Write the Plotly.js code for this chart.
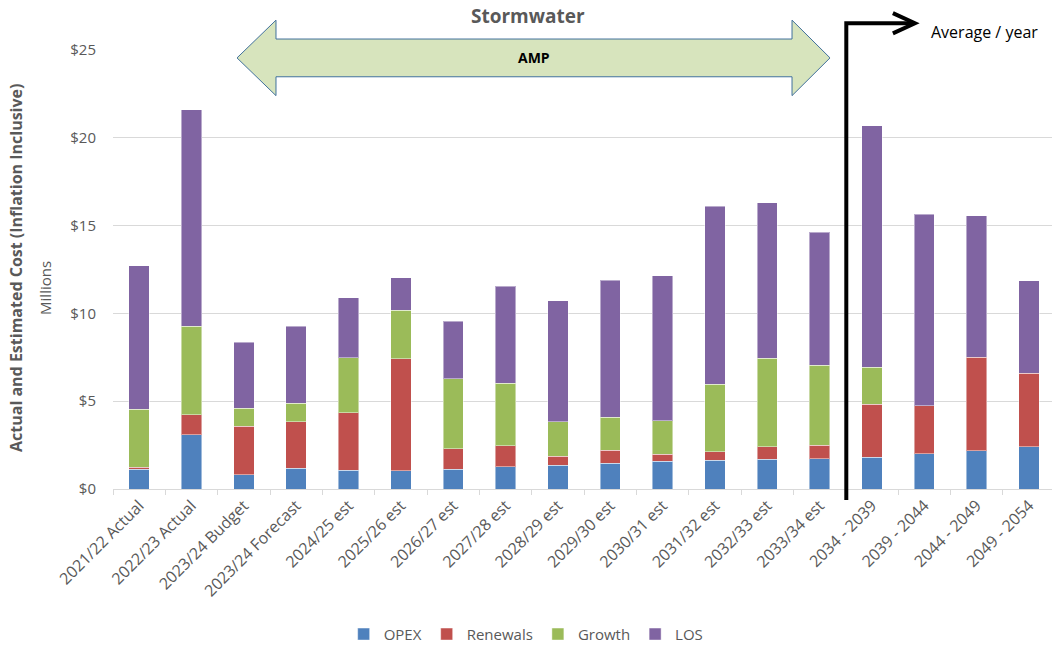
<!DOCTYPE html>
<html><head><meta charset="utf-8">
<script src="https://cdn.plot.ly/plotly-3.0.1.min.js"></script>
<style>html,body{margin:0;padding:0;background:#fff}</style>
</head><body><div id="chart" style="width:1052px;height:651px"></div>
<script>
const categories = ["2021/22 Actual","2022/23 Actual","2023/24 Budget","2023/24 Forecast","2024/25 est","2025/26 est","2026/27 est","2027/28 est","2028/29 est","2029/30 est","2030/31 est","2031/32 est","2032/33 est","2033/34 est","2034 - 2039","2039 - 2044","2044 - 2049","2049 - 2054"];
const opex     = [1.12,3.08,0.81,1.17,1.08,1.04,1.12,1.27,1.34,1.46,1.57,1.63,1.70,1.72,1.80,2.00,2.19,2.42];
const renewals = [0.13,1.15,2.76,2.65,3.25,6.37,1.16,1.19,0.53,0.75,0.41,0.50,0.72,0.76,3.02,2.74,5.31,4.16];
const growth   = [3.29,5.05,1.02,1.06,3.15,2.76,4.01,3.55,1.95,1.87,1.91,3.84,5.04,4.57,2.10,null,null,null];
const los      = [8.16,12.32,3.78,4.40,3.42,1.87,3.25,5.55,6.91,7.82,8.26,10.13,8.83,7.58,13.77,10.91,8.07,5.29];
const seriesNames = ["OPEX","Renewals","Growth","LOS"];
const seriesColors = ["#4f81bd","#c0504d","#9bbb59","#8064a2"];
const seriesValues = [opex, renewals, growth, los];

const FONT = "'Open Sans', sans-serif";
const traces = seriesValues.map((vals, i) => ({
  type: 'bar', name: seriesNames[i], x: categories, y: vals,
  marker: {color: seriesColors[i], line: {color: 'rgba(255,255,255,0.45)', width: 1}},
  hoverinfo: 'skip'
}));

const layout = {
  width: 1052, height: 651,
  margin: {l: 113, r: 0, t: 50, b: 160},
  paper_bgcolor: '#fff', plot_bgcolor: '#fff',
  barmode: 'stack', bargap: 0.61,
  font: {family: FONT, color: '#595959'},
  showlegend: true,
  legend: {orientation: 'h', x: 0.44, xanchor: 'center', y: -0.331, yanchor: 'middle',
           font: {size: 15, color: '#595959', family: FONT}, itemwidth: 30, traceorder: 'normal'},
  xaxis: {type: 'category', range: [-0.5, 17.44], tickangle: -45,
          tickfont: {size: 16, color: '#595959', family: FONT},
          showline: true, linecolor: '#d9d9d9', linewidth: 1,
          ticks: 'outside', tickson: 'boundaries', ticklen: 5, tickcolor: '#d9d9d9',
          showgrid: false, fixedrange: true},
  yaxis: {range: [0, 25], dtick: 5, tickprefix: '$', tickfont: {size: 15, color: '#595959', family: FONT},
          gridcolor: '#d9d9d9', gridwidth: 1.3, zeroline: false, showline: false, ticks: '',
          ticklabelstandoff: 16, fixedrange: true},
  shapes: [
    {type: 'path', xref: 'x', yref: 'paper',
     path: 'M 1.869 0.982 L 2.614 1.068 L 2.614 1.025 L 12.473 1.025 L 12.473 1.068 L 13.199 0.982 L 12.473 0.896 L 12.473 0.939 L 2.614 0.939 L 2.614 0.896 Z',
     fillcolor: '#d7e4bd', line: {color: '#41719c', width: 1}, layer: 'above'},
    {type: 'path', xref: 'x', yref: 'paper',
     path: 'M 13.51 -0.025 L 13.51 1.061 L 14.80 1.061',
     line: {color: '#000', width: 4}, layer: 'above'},
    {type: 'path', xref: 'x', yref: 'paper',
     path: 'M 14.40 1.084 L 14.82 1.061 L 14.40 1.038',
     line: {color: '#000', width: 4}, layer: 'above'}
  ],
  annotations: [
    {text: '<b>Stormwater</b>', xref: 'paper', yref: 'paper', x: 0.442, y: 1.077, xanchor: 'center', yanchor: 'middle',
     showarrow: false, font: {size: 19, color: '#595959', family: FONT}},
    {text: '<b>AMP</b>', xref: 'paper', yref: 'paper', x: 0.448, y: 0.982, xanchor: 'center', yanchor: 'middle',
     showarrow: false, font: {size: 14, color: '#000', family: FONT}},
    {text: 'Average / year', xref: 'paper', yref: 'paper', x: 0.869, y: 1.041, xanchor: 'left', yanchor: 'middle',
     showarrow: false, font: {size: 16, color: '#000', family: FONT}},
    {text: '<b>Actual and Estimated Cost (Inflation Inclusive)</b>', xref: 'paper', yref: 'paper',
     x: (16-113)/939, y: (491-269)/441, xanchor: 'center', yanchor: 'middle', textangle: -90,
     showarrow: false, font: {size: 16, color: '#595959', family: FONT}},
    {text: 'Millions', xref: 'paper', yref: 'paper',
     x: (45-113)/939, y: (491-289)/441, xanchor: 'center', yanchor: 'middle', textangle: -90,
     showarrow: false, font: {size: 15, color: '#595959', family: FONT}}
  ]
};

Plotly.newPlot('chart', traces, layout, {staticPlot: true, displayModeBar: false});
</script>
</body></html>
